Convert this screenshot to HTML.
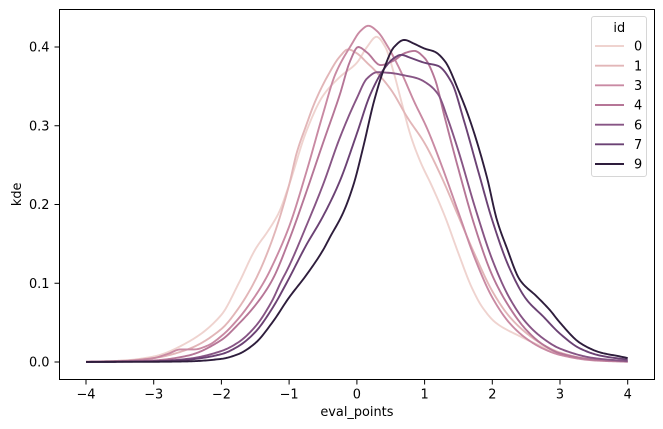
<!DOCTYPE html>
<html><head><meta charset="utf-8">
<style>
html,body{margin:0;padding:0;background:#fff;}
svg{display:block;}
text{font-family:"DejaVu Sans","Liberation Sans",sans-serif;font-size:12.9px;fill:#000;}
</style></head>
<body>
<svg id="s" width="663" height="429" viewBox="0 0 663 429" xmlns="http://www.w3.org/2000/svg">
<rect x="0" y="0" width="663" height="429" fill="#fff"/>
<g id="curves" fill="none" stroke-width="1.9" stroke-linejoin="round" stroke-linecap="butt"></g>
<rect x="59.5" y="9.5" width="595" height="370" fill="none" stroke="#000" stroke-width="1"/>
<g stroke="#000" stroke-width="1">
<line x1="86" y1="379.5" x2="86" y2="384.5"/>
<line x1="153.7" y1="379.5" x2="153.7" y2="384.5"/>
<line x1="221.4" y1="379.5" x2="221.4" y2="384.5"/>
<line x1="289.1" y1="379.5" x2="289.1" y2="384.5"/>
<line x1="356.9" y1="379.5" x2="356.9" y2="384.5"/>
<line x1="424.6" y1="379.5" x2="424.6" y2="384.5"/>
<line x1="492.3" y1="379.5" x2="492.3" y2="384.5"/>
<line x1="560" y1="379.5" x2="560" y2="384.5"/>
<line x1="627.7" y1="379.5" x2="627.7" y2="384.5"/>
<line x1="54.5" y1="362" x2="59.5" y2="362"/>
<line x1="54.5" y1="283.25" x2="59.5" y2="283.25"/>
<line x1="54.5" y1="204.5" x2="59.5" y2="204.5"/>
<line x1="54.5" y1="125.75" x2="59.5" y2="125.75"/>
<line x1="54.5" y1="47" x2="59.5" y2="47"/>
</g>
<g text-anchor="middle">
<text x="86" y="398.5">−4</text>
<text x="153.7" y="398.5">−3</text>
<text x="221.4" y="398.5">−2</text>
<text x="289.1" y="398.5">−1</text>
<text x="356.9" y="398.5">0</text>
<text x="424.6" y="398.5">1</text>
<text x="492.3" y="398.5">2</text>
<text x="560" y="398.5">3</text>
<text x="627.7" y="398.5">4</text>
</g>
<g text-anchor="end">
<text x="49.5" y="366.7">0.0</text>
<text x="49.5" y="287.9">0.1</text>
<text x="49.5" y="209.2">0.2</text>
<text x="49.5" y="130.4">0.3</text>
<text x="49.5" y="51.7">0.4</text>
</g>
<text x="356.9" y="416" text-anchor="middle">eval_points</text>
<text transform="translate(21,194.3) rotate(-90)" text-anchor="middle">kde</text>
<rect x="591.5" y="16.5" width="55" height="160" rx="2.5" ry="2.5" fill="#fff" fill-opacity="0.8" stroke="#d6d6d6" stroke-width="1"/>
<text x="619.3" y="32" text-anchor="middle">id</text>
<g stroke-width="1.9">
<line x1="595" y1="46" x2="624" y2="46" stroke="#efd3cf"/>
<line x1="595" y1="65.7" x2="624" y2="65.7" stroke="#e2b6b8"/>
<line x1="595" y1="85.3" x2="624" y2="85.3" stroke="#c98aa3"/>
<line x1="595" y1="105" x2="624" y2="105" stroke="#b67697"/>
<line x1="595" y1="124.7" x2="624" y2="124.7" stroke="#875585"/>
<line x1="595" y1="144.3" x2="624" y2="144.3" stroke="#6b4274"/>
<line x1="595" y1="164" x2="624" y2="164" stroke="#2e1d3c"/>
</g>
<g text-anchor="start">
<text x="634" y="50.7">0</text>
<text x="634" y="70.4">1</text>
<text x="634" y="90">3</text>
<text x="634" y="109.7">4</text>
<text x="634" y="129.4">6</text>
<text x="634" y="149">7</text>
<text x="634" y="168.7">9</text>
</g>
</svg>
<script>
(function(){
var X=function(v){return 356.85+67.71*v;}, Y=function(k){return 362-787.5*k;};
function mono(P){
 var n=P.length,xs=[],ys=[],d=[],m=[],i;
 for(i=0;i<n;i++){xs.push(P[i][0]);ys.push(P[i][1]);}
 for(i=0;i<n-1;i++) d.push((ys[i+1]-ys[i])/(xs[i+1]-xs[i]));
 m[0]=d[0]; m[n-1]=d[n-2];
 for(i=1;i<n-1;i++){
  if(d[i-1]*d[i]<=0) m[i]=0;
  else{var h0=xs[i]-xs[i-1],h1=xs[i+1]-xs[i],w1=2*h1+h0,w2=h1+2*h0;m[i]=(w1+w2)/(w1/d[i-1]+w2/d[i]);}
 }
 return function(t){
  var j=0; while(j<n-2 && t>xs[j+1]) j++;
  var h=xs[j+1]-xs[j], s=(t-xs[j])/h, s2=s*s, s3=s2*s;
  return (2*s3-3*s2+1)*ys[j]+(s3-2*s2+s)*h*m[j]+(-2*s3+3*s2)*ys[j+1]+(s3-s2)*h*m[j+1];
 };
}
var C=[
["#efd3cf",[[-4,0.0003],[-3.5,0.0015],[-3,0.007],[-2.5,0.025],[-2,0.06],[-1.75,0.099],[-1.5,0.143],[-1.3,0.168],[-1.15,0.19],[-1,0.225],[-0.75,0.292],[-0.5,0.338],[-0.25,0.362],[0,0.38],[0.15,0.4],[0.29,0.413],[0.42,0.4],[0.55,0.366],[0.66,0.33],[0.8,0.286],[0.95,0.252],[1.1,0.225],[1.3,0.185],[1.5,0.138],[1.7,0.094],[1.85,0.07],[2.05,0.05],[2.4,0.033],[2.7,0.021],[3,0.011],[3.3,0.005],[3.6,0.002],[4,0.0004]]],
["#e2b6b8",[[-4,0.0003],[-3.5,0.0015],[-3,0.005],[-2.5,0.016],[-2,0.042],[-1.75,0.068],[-1.5,0.104],[-1.25,0.155],[-1,0.225],[-0.89,0.265],[-0.75,0.3],[-0.62,0.33],[-0.42,0.365],[-0.25,0.388],[-0.13,0.397],[0,0.392],[0.15,0.38],[0.27,0.37],[0.51,0.345],[0.75,0.31],[1,0.278],[1.25,0.235],[1.5,0.185],[1.75,0.135],[2,0.09],[2.25,0.058],[2.5,0.037],[2.75,0.022],[3,0.012],[3.5,0.003],[4,0.0005]]],
["#c98aa3",[[-4,0.0002],[-3.5,0.001],[-3,0.005],[-2.8,0.01],[-2.6,0.016],[-2.4,0.016],[-2.2,0.021],[-2,0.033],[-1.75,0.055],[-1.5,0.084],[-1.35,0.105],[-1.25,0.122],[-1,0.172],[-0.75,0.24],[-0.5,0.315],[-0.32,0.365],[-0.08,0.403],[0.05,0.42],[0.17,0.427],[0.3,0.42],[0.46,0.4],[0.66,0.367],[0.85,0.33],[1.03,0.298],[1.25,0.25],[1.5,0.19],[1.75,0.13],[2,0.082],[2.25,0.05],[2.5,0.03],[2.75,0.017],[3,0.009],[3.5,0.002],[4,0.0003]]],
["#b67697",[[-4,0.0002],[-3,0.002],[-2.5,0.008],[-2,0.028],[-1.75,0.048],[-1.5,0.072],[-1.25,0.104],[-1,0.155],[-0.75,0.215],[-0.5,0.278],[-0.25,0.34],[-0.1,0.382],[0.02,0.4],[0.15,0.393],[0.35,0.377],[0.55,0.383],[0.7,0.392],[0.85,0.395],[1,0.386],[1.15,0.36],[1.3,0.31],[1.5,0.245],[1.75,0.17],[2,0.11],[2.25,0.07],[2.5,0.041],[2.75,0.022],[3,0.011],[3.5,0.003],[4,0.0005]]],
["#875585",[[-4,0.0001],[-3,0.001],[-2.5,0.004],[-2,0.014],[-1.75,0.025],[-1.5,0.045],[-1.25,0.078],[-1.13,0.1],[-1,0.122],[-0.75,0.172],[-0.5,0.225],[-0.25,0.285],[0,0.335],[0.15,0.36],[0.3,0.368],[0.5,0.367],[0.7,0.364],[0.9,0.36],[1.05,0.353],[1.2,0.34],[1.35,0.307],[1.5,0.268],[1.75,0.195],[2,0.13],[2.25,0.082],[2.5,0.05],[2.75,0.03],[3,0.017],[3.5,0.005],[4,0.001]]],
["#6b4274",[[-4,0.0001],[-3,0.0008],[-2.5,0.003],[-2,0.01],[-1.75,0.02],[-1.5,0.038],[-1.25,0.068],[-1.04,0.1],[-0.75,0.148],[-0.5,0.185],[-0.25,0.23],[0,0.29],[0.2,0.34],[0.4,0.372],[0.55,0.386],[0.65,0.39],[0.8,0.386],[1,0.38],[1.2,0.376],[1.4,0.355],[1.58,0.307],[1.8,0.24],[2,0.18],[2.25,0.12],[2.5,0.08],[2.75,0.058],[3,0.036],[3.3,0.017],[3.6,0.008],[4,0.003]]],
["#2e1d3c",[[-4,0.0001],[-3,0.0003],[-2.5,0.0008],[-2,0.004],[-1.75,0.01],[-1.5,0.024],[-1.25,0.05],[-1,0.082],[-0.75,0.11],[-0.5,0.142],[-0.4,0.158],[-0.2,0.19],[-0.05,0.225],[0.1,0.275],[0.25,0.33],[0.4,0.372],[0.55,0.4],[0.7,0.409],[0.85,0.404],[1,0.398],[1.15,0.394],[1.3,0.382],[1.5,0.345],[1.67,0.307],[1.92,0.235],[2.07,0.18],[2.21,0.146],[2.41,0.104],[2.66,0.083],[2.85,0.066],[3,0.05],[3.3,0.024],[3.6,0.012],[3.89,0.007],[4,0.005]]]
];
var g=document.getElementById("curves"), ns="http://www.w3.org/2000/svg";
for(var c=0;c<C.length;c++){
 var f=mono(C[c][1]), pts=[];
 for(var t=-4;t<=4.0001;t+=0.02){pts.push(X(t).toFixed(2)+","+Y(f(Math.min(t,4))).toFixed(2));}
 var pl=document.createElementNS(ns,"polyline");
 pl.setAttribute("points",pts.join(" "));
 pl.setAttribute("stroke",C[c][0]);
 g.appendChild(pl);
}
})();
</script>
</body></html>
